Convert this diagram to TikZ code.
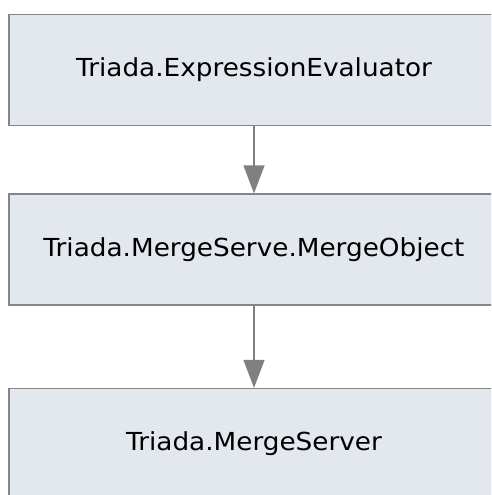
\documentclass[tikz,border=0pt]{standalone}
\usepackage{fontspec}
\newfontfamily\boxfont[FakeStretch=1.06]{DejaVu Sans}
\usetikzlibrary{arrows.meta}
\tikzset{
  unit/.style={draw=black!48, line width=1.3pt, fill=lbox, minimum width=490pt,
    minimum height=111pt, inner sep=0pt, font=\boxfont\fontsize{24.8pt}{30pt}\selectfont,
    text=black},
  dep/.style={draw=black!50, line width=1.4pt,
    -{Triangle[width=21pt,length=28pt]}}
}
\definecolor{lbox}{HTML}{E3E7EE}
\begin{document}
\begin{tikzpicture}[x=1pt,y=1pt]
  \useasboundingbox (0,0) rectangle (491,-495);
  \clip (0,0) rectangle (491,-495);
  \fill[white] (0,0) rectangle (491,-495);
  \node[unit] (eval) at (254,-70) {Triada.ExpressionEvaluator};
  \node[unit] (mobj) at (254,-249.5) {Triada.MergeServe.MergeObject};
  \node[unit] (msrv) at (254,-444) {Triada.MergeServer};
  \draw[dep] (eval) -- (mobj);
  \draw[dep] (mobj) -- (msrv);
\end{tikzpicture}
\end{document}
